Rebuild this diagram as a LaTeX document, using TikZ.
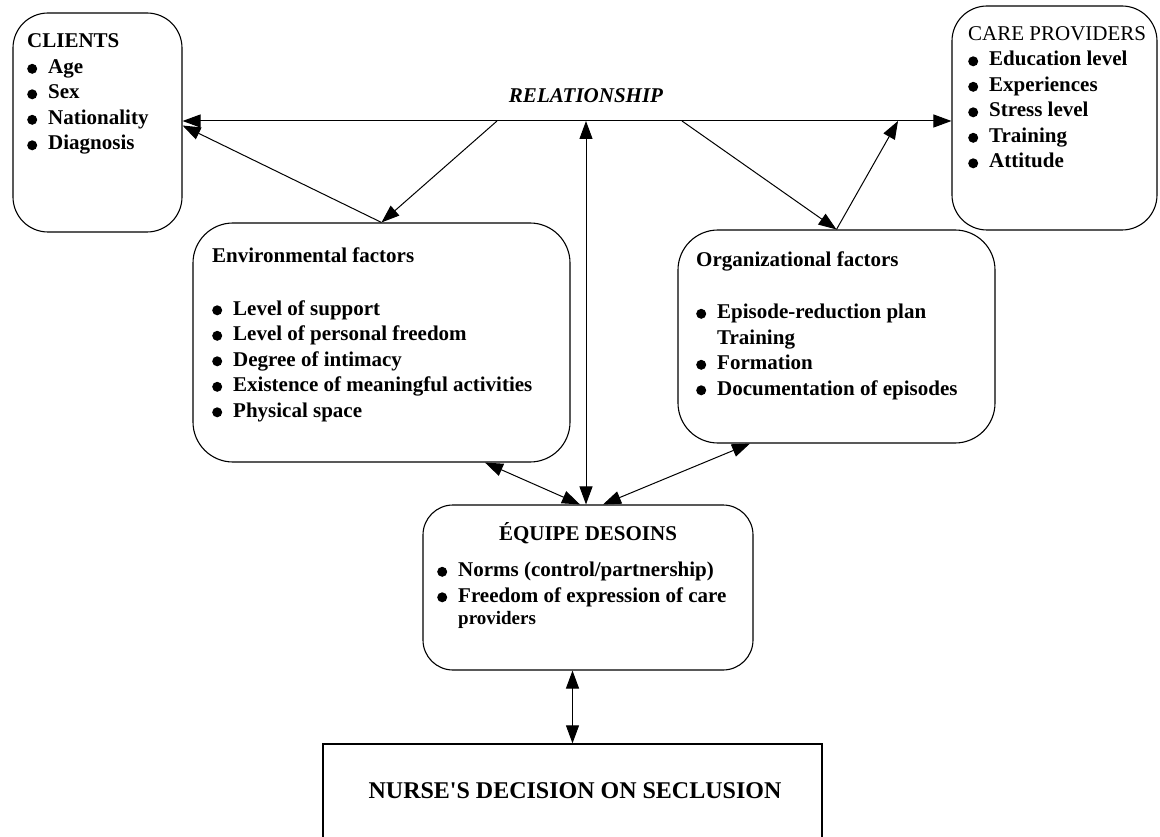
\documentclass[tikz,border=0pt]{standalone}
\usepackage{fontspec}
\setmainfont{Liberation Serif}
\newfontfamily\plainserif{Liberation Serif}
\usetikzlibrary{arrows.meta}
\newcommand{\bul}{\makebox[21pt][l]{\raisebox{-0.3pt}{\tikz\fill (0,0) circle (5pt);}}}
\newcommand{\bodyfont}{\fontsize{21}{25.5}\selectfont\bfseries}
\begin{document}
\begin{tikzpicture}[x=1pt,y=-1pt,
  box/.style={draw, line width=1.1pt, rounded corners=35pt, inner sep=0pt},
  txt/.style={align=left, anchor=base west, inner sep=0pt, font=\bodyfont},
  conn/.style={line width=1pt, -{Triangle[length=18pt,width=13pt]}},
  conn2/.style={line width=1pt, {Triangle[length=18pt,width=13pt]}-{Triangle[length=18pt,width=13pt]}}]
\useasboundingbox (0,0) rectangle (1160,837);
\clip (0,0) rectangle (1160,837);

% boxes
\node[box, minimum width=169pt, minimum height=219pt] (clients) at (97.5,122.5) {};
\node[box, minimum width=205pt, minimum height=224pt] (care) at (1054.5,118) {};
\node[box, minimum width=377pt, minimum height=239pt, rounded corners=40pt] (env) at (381.5,342.5) {};
\node[box, minimum width=317pt, minimum height=213pt, rounded corners=40pt] (org) at (836.5,336.5) {};
\node[box, minimum width=330pt, minimum height=165pt, rounded corners=30pt] (equipe) at (588,587.5) {};
\node[draw, line width=1.3pt, minimum width=499pt, minimum height=120pt, inner sep=0pt] (nurse) at (572.5,804) {};

% texts (anchor = baseline of the last line)
\node[txt] (clientsT) at (27,150) {CLIENTS\\\bul Age\\\bul Sex\\\bul Nationality\\\bul Diagnosis};
\node[txt] (careT) at (968,168) {{\mdseries CARE PROVIDERS}\\\bul Education level\\\bul Experiences\\\bul Stress level\\\bul Training\\\bul Attitude};
\node[txt] (envT) at (212,417) {Environmental factors\\[27.5pt]\bul Level of support\\\bul Level of personal freedom\\\bul Degree of intimacy\\\bul Existence of meaningful activities\\\bul Physical space};
\node[txt] (orgT) at (696,395) {Organizational factors\\[26.5pt]\bul Episode-reduction plan\\\hspace*{21pt}Training\\\bul Formation\\\bul Documentation of episodes};
\node[font=\bodyfont, anchor=base, inner sep=0pt] (eqH) at (588,540) {ÉQUIPE DESOINS};
\node[txt] (eqT) at (437,602) {\bul Norms (control/partnership)\\\bul Freedom of expression of care};
\node[txt, font=\fontsize{19}{22}\selectfont\bfseries] (eqP) at (458,624) {providers};
\node[font=\fontsize{21}{25}\selectfont\bfseries\itshape, anchor=base, inner sep=0pt] (rel) at (586,103) {RELATIONSHIP};
\node[font=\plainserif\fontsize{24}{28}\selectfont\bfseries, anchor=base, inner sep=0pt] (nurseT) at (575,798) {NURSE'S DECISION ON SECLUSION};

% junction points on the relationship line
\coordinate (jL) at (497,121);
\coordinate (jM) at (586,121);
\coordinate (jR) at (682,121);
\coordinate (jR2) at (898,121);

% connectors
\draw[conn2] (clients.east |- jM) -- (care.west |- jM);
\draw[conn] (jL) -- (env.north);
\draw[conn] (env.north) -- ([yshift=-3pt]clients.east);
\draw[conn2] (equipe.north -| jM) -- (jM);
\draw[conn] (jR) -- (org.north);
\draw[conn] (org.north) -- (jR2);
\draw[conn2] ([xshift=103.5pt]env.south) -- ([xshift=-8pt]equipe.north);
\draw[conn2] ([xshift=-86.5pt]org.south) -- ([xshift=15pt]equipe.north);
\draw[conn2] (equipe.south -| nurse.north) -- (nurse.north);
\end{tikzpicture}
\end{document}
